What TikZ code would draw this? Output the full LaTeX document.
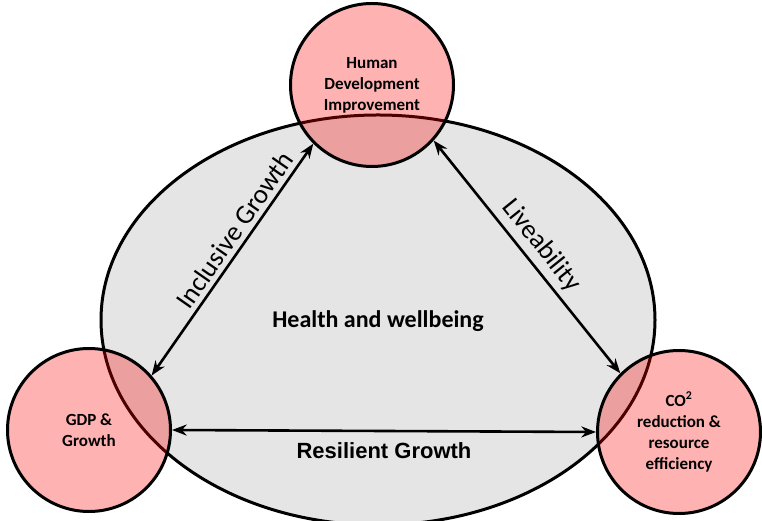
\documentclass[tikz,border=0pt]{standalone}
\usepackage{fontspec}
\setmainfont{Carlito}
\newfontfamily\arialfont{Liberation Sans}
\usetikzlibrary{arrows.meta}

\begin{document}
\begin{tikzpicture}[
    x=1pt, y=1pt, >=Stealth,
    hub/.style={circle, draw, line width=3pt, fill=red, fill opacity=0.3,
                text opacity=1, draw opacity=1, minimum size=163pt, align=center,
                font=\bfseries\fontsize{17}{21}\selectfont},
    link/.style={<->, line width=2.6pt},
    lbl/.style={font=\fontsize{27}{31}\selectfont}
]
\useasboundingbox (0,0) rectangle (762,521);

% Background field
\draw[line width=3pt, fill=black!10] (378,201) ellipse [x radius=277, y radius=205];
\node[font=\bfseries\fontsize{24}{28}\selectfont] (health) at (378,200) {Health and wellbeing};

% Three goal circles
\node[hub] (hdi) at (372,436) {Human\\Development\\Improvement};
\node[hub] (gdp) at (89,91)   {GDP \&\\Growth};
\node[hub] (co2) at (679,89)  {CO\textsuperscript{2}\\reduction \&\\resource\\efficiency};

% Links between the goals
\draw[link] (gdp.41)  -- (hdi.225)
    node[lbl, sloped, pos=0.59, above=1pt] (incl) {Inclusive Growth};
\draw[link] (hdi.318) -- (co2.135)
    node[lbl, sloped, pos=0.5, above=2pt] (live) {Liveability};
\draw[link] (gdp.0)   -- (co2.180);
\node[font=\arialfont\bfseries\fontsize{22}{26}\selectfont] (resil) at (384,70) {Resilient Growth};
\end{tikzpicture}
\end{document}
